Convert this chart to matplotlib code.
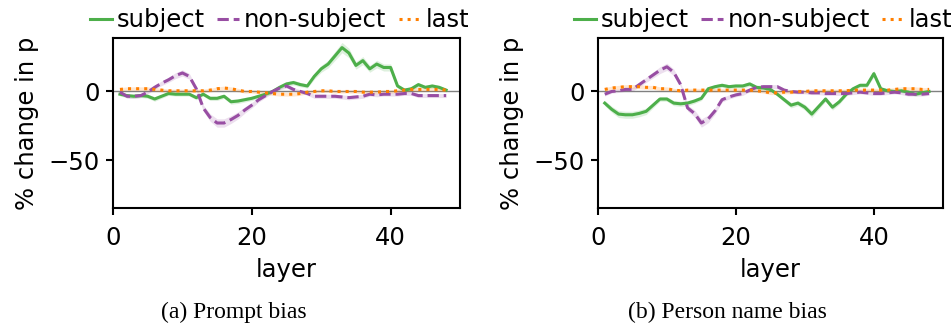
import numpy as np
import matplotlib.pyplot as plt

layers = np.arange(1, 49)

# (a) Prompt bias
prompt_subject = [-2, -3, -3.5, -3, -3.5, -5.5, -3.5, -1.5, -2, -2, -2, -4.5, -2, -5, -5, -3.5,
                  -7.5, -7, -6, -5, -3.5, -2, 0, 3, 5.5, 6.5, 5, 4, 11, 16.5, 20, 26,
                  32, 28, 19, 22.5, 16.5, 20, 17.5, 17.5, 4, 1, 2, 5, 3, 4, 3, 1]
prompt_nonsubject = [-0.5, -3.5, -3.5, -3, -0.5, 3, 6, 8.5, 11.5, 13.5, 11, 2, -12, -19, -23, -23,
                     -20.5, -17.5, -13.5, -10, -6, -3, 0, 2.5, 4, 1.5, 0, -1.5, -3.5, -3.5, -3.5, -3.5,
                     -4, -4.5, -4, -3.5, -2, -2.5, -2, -2, -2, -1.5, -1.5, -3, -3, -3, -3, -3]
prompt_last = [1.5, 2, 2, 2, 2, 1.5, 1, 0.5, 0.5, 0.5, 0.5, 0.5, 0.5, 1, 2, 2.5,
               2, 1, 0, 0, -0.5, -1, -1.5, -2, -2, -2, -1.5, -0.5, 0, 0.5, 0.5, 0,
               0, 0, 0, -0.5, -0.5, -0.5, 0, 0, 0.5, 1, 1.5, 1.5, 1.5, 1.5, 1.5, 1]

# (b) Person name bias
name_subject = [-8.5, -13, -16.5, -17, -17, -16, -14.5, -10, -5.5, -5.5, -8.5, -9, -8.5, -7, -5, 2,
                3.5, 4.5, 3.5, 4, 4, 5.5, 3, 2.5, 1.5, -2, -6, -10, -8.5, -11.5, -16.5, -11,
                -5.5, -11.5, -7.5, -2, 2, 4.5, 4.5, 13, 2, 0.5, 0, 0.5, -0.5, -2, -1, 0]
name_nonsubject = [-2, 0, 0.5, 1.5, 1.5, 5, 8.5, 12, 15.5, 18, 14, 5, -12, -16, -23, -20,
                   -14, -6, -4, -2.5, -1.5, 1, 3, 3.5, 3.5, 3.5, 1, 0, -0.5, -0.5, -1, -1,
                   -1.5, -1.5, -1.5, -1.5, -1, -0.5, -1, -1.5, -1.5, -1, -0.5, -1, -2, -2, -2, -1.5]
name_last = [1.5, 2.5, 3, 3.5, 3.5, 3.5, 3, 3, 2, 2, 1, 0.5, 1, 1, 1, 1,
             1, 1, 1, 1, 1, 1, 0.5, 0, -1, -1, -0.5, -0.5, 0, 0, 0.5, 0.5,
             0.5, 0.5, 0.5, 0.5, 1, 1, 1, 1, 1, 1, 1.5, 2, 2, 2, 1.5, 1.5]

labels = ['subject', 'non-subject', 'last']
colors = ['#4daf4a', '#984ea3', '#ff7f00']
styles = ['-', '--', ':']
captions = ['(a) Prompt bias', '(b) Person name bias']

plt.rcParams['font.size'] = 17.5

fig = plt.figure(figsize=(9.52, 3.31), dpi=100)
ax_left = fig.add_axes([0.1187, 0.3716, 0.3645, 0.5136])
ax_right = fig.add_axes([0.628, 0.3716, 0.3624, 0.5136])

panels = [(ax_left, [prompt_subject, prompt_nonsubject, prompt_last]),
          (ax_right, [name_subject, name_nonsubject, name_last])]

for ax, series in panels:
    ax.axhline(0, color='gray', lw=1, zorder=1)
    for vals, lab, c, ls in zip(series, labels, colors, styles):
        vals = np.array(vals)
        band = 1.2 + 0.08 * np.abs(vals)  # rough confidence band
        ax.fill_between(layers, vals - band, vals + band, color=c, alpha=0.18, lw=0)
        ax.plot(layers, vals, ls, color=c, lw=2.2, label=lab)
    ax.set_xlim(0, 50)
    ax.set_ylim(-85, 39)
    ax.set_xticks([0, 20, 40])
    ax.set_yticks([0, -50])
    ax.set_xlabel('layer', labelpad=5.5)
    ax.set_ylabel('% change in p', labelpad=7)
    for sp in ax.spines.values():
        sp.set_linewidth(1.5)
    ax.tick_params(width=1.5, length=5, pad=4.5)
    ax.tick_params(axis='x', pad=8)
    ax.legend(loc='lower center', bbox_to_anchor=(0.48, 1.02), ncol=3, frameon=False,
              handlelength=0.9, handletextpad=0.2, columnspacing=0.5, borderaxespad=0,
              borderpad=0.1)

fig.text(0.246, 0.057, captions[0], ha='center', va='center', family='Liberation Serif', fontsize=17)
fig.text(0.764, 0.057, captions[1], ha='center', va='center', family='Liberation Serif', fontsize=17)

fig.savefig('out.png', dpi=100)
